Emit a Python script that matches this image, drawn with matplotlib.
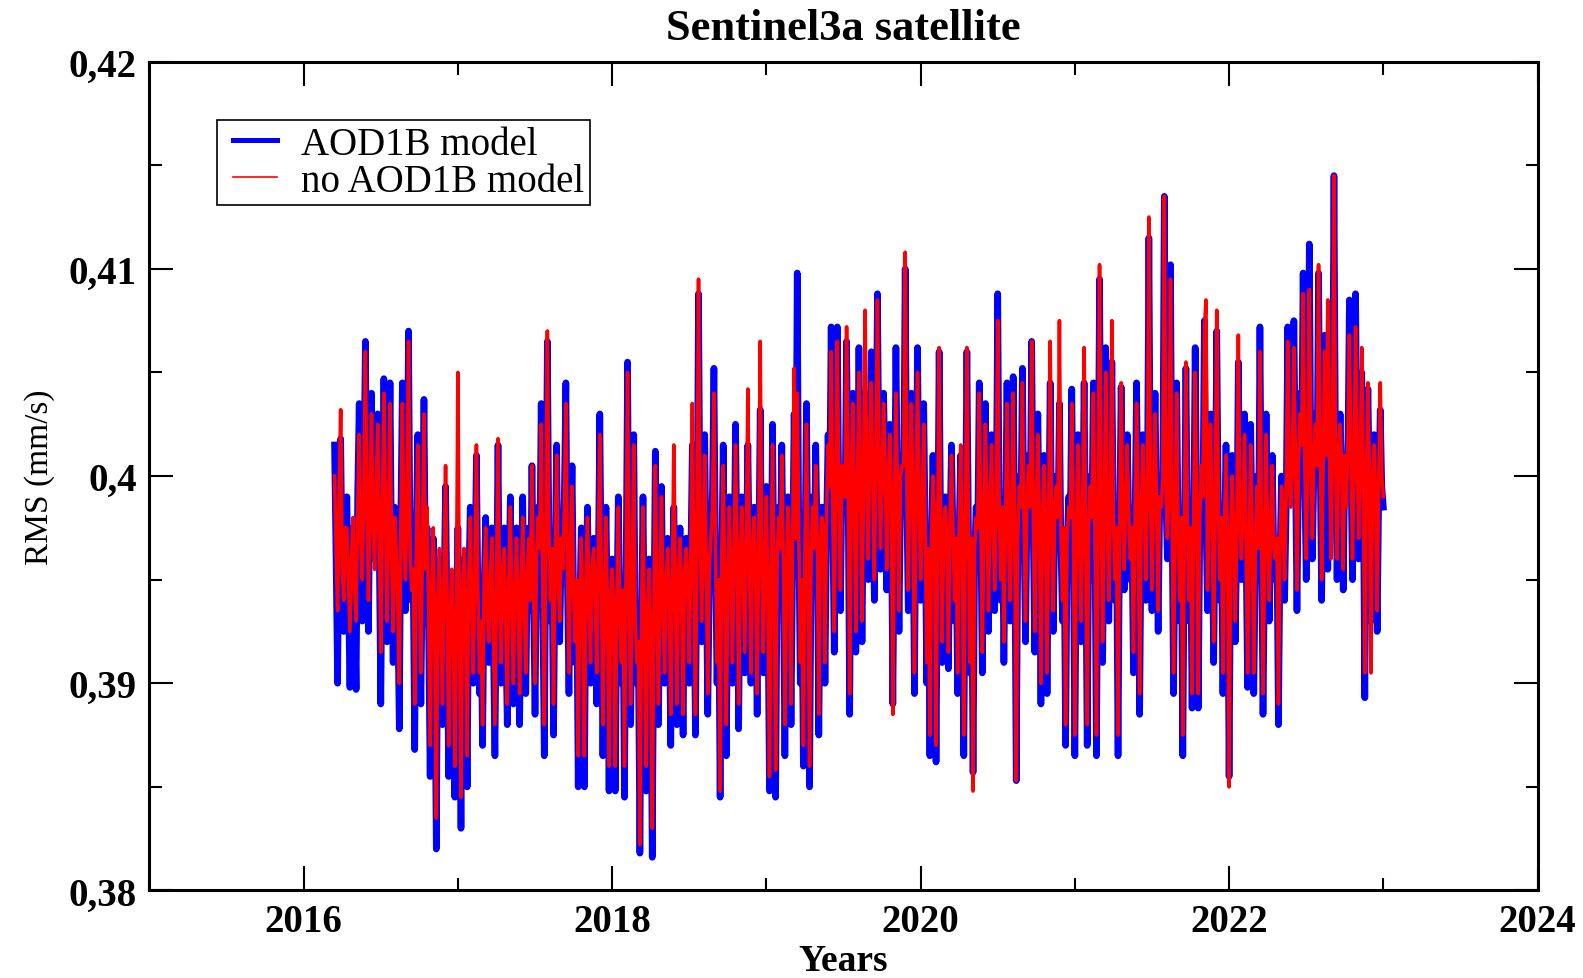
import numpy as np
import matplotlib.pyplot as plt
from matplotlib.ticker import MultipleLocator, FuncFormatter
from matplotlib.legend_handler import HandlerLine2D

# RMS values in units of 1e-4 mm/s, sampled every 0.01 yr from 2016.20
t_start = 2016.20
t_step = 0.01

aod1b = [
    4015, 3960, 3900, 3985, 4018, 3950, 3925, 3970, 3990, 3945, 3898, 3955, 3975, 3940, 3897, 3990, 4035, 3965, 3930, 3995,
    4065, 3985, 3925, 3995, 4040, 3970, 3960, 4000, 4030, 3965, 3890, 3975, 4047, 3990, 3920, 3980, 4045, 3960, 3910, 3985,
    3960, 3935, 3878, 3980, 4045, 3965, 3935, 3995, 4070, 3960, 3940, 3950, 3868, 3975, 4020, 3945, 3890, 3960, 4037, 3950,
    3975, 3925, 3855, 3940, 3970, 3910, 3820, 3935, 3960, 3920, 3880, 3945, 3995, 3930, 3855, 3925, 3950, 3915, 3845, 3930,
    3975, 3920, 3830, 3935, 3960, 3925, 3850, 3945, 3985, 3930, 3900, 3950, 4010, 3940, 3895, 3925, 3870, 3945, 3980, 3930,
    3910, 3945, 3975, 3920, 3865, 3940, 4015, 3935, 3900, 3950, 3975, 3925, 3880, 3945, 3990, 3930, 3890, 3940, 3975, 3935,
    3880, 3940, 3990, 3930, 3895, 3950, 3975, 3935, 4005, 3945, 3885, 3955, 3985, 3960, 4035, 3940, 3865, 3965, 4065, 3970,
    3930, 3960, 3875, 3955, 4015, 3945, 3920, 3965, 3960, 3990, 4045, 3950, 3895, 3960, 4005, 3940, 3910, 3945, 3850, 3935,
    3975, 3930, 3850, 3945, 3985, 3935, 3900, 3950, 3970, 3940, 3890, 3955, 4030, 3945, 3865, 3935, 3985, 3930, 3848, 3935,
    3960, 3925, 3848, 3935, 3990, 3930, 3900, 3940, 3845, 3950, 4055, 3935, 3880, 3945, 4020, 3925, 3900, 3915, 3818, 3925,
    3990, 3920, 3848, 3930, 3960, 3915, 3816, 3925, 4012, 3935, 3880, 3940, 3995, 3930, 3900, 3945, 3970, 3935, 3870, 3940,
    3985, 3940, 3880, 3945, 3975, 3935, 3875, 3950, 3970, 3945, 3900, 3960, 4015, 3950, 3875, 3965, 4088, 3975, 3920, 3960,
    4020, 3955, 3885, 3950, 3975, 3990, 4052, 3960, 3900, 3945, 3845, 3955, 4015, 3945, 3865, 3940, 3990, 3950, 3900, 3955,
    4025, 3960, 3878, 3950, 3990, 3945, 3905, 3965, 4015, 3955, 3900, 3960, 3985, 3950, 3885, 3960, 4032, 3955, 3905, 3950,
    3995, 3935, 3848, 3945, 4025, 3940, 3845, 3955, 3985, 3960, 4015, 3950, 3865, 3945, 3990, 3955, 3880, 3960, 4030, 3965,
    4098, 3970, 3900, 3945, 3860, 3960, 4035, 3950, 3850, 3955, 3990, 3960, 4015, 3965, 3875, 3960, 3985, 3970, 3900, 3975,
    4020, 3990, 4072, 3980, 3915, 3995, 4072, 3985, 3935, 4000, 4000, 3985, 4065, 3990, 3885, 3995, 4040, 3980, 3915, 3990,
    4062, 3995, 3920, 3990, 4040, 4000, 3950, 4005, 4060, 3995, 3940, 4000, 4088, 4005, 3955, 3995, 4040, 4000, 3945, 3990,
    4025, 3985, 3890, 3980, 4062, 3990, 3925, 3995, 4010, 4000, 4100, 3990, 3935, 3995, 4040, 3985, 3895, 3990, 4062, 3985,
    3940, 3975, 4035, 3970, 3900, 3960, 3865, 3965, 4010, 3970, 3862, 3960, 4060, 3975, 3910, 3970, 3990, 3965, 3907, 3970,
    4015, 3970, 3930, 3965, 3895, 3975, 4010, 3960, 3865, 3970, 4060, 3975, 3905, 3965, 3857, 3960, 3985, 3970, 4045, 3975,
    3905, 3970, 4035, 3975, 3925, 3980, 4020, 3970, 3935, 3985, 4088, 3975, 3940, 3980, 3910, 3975, 4045, 3970, 3930, 3975,
    4048, 3970, 3853, 3965, 4000, 3980, 4052, 3975, 3920, 3985, 4010, 3980, 4065, 3975, 3915, 3980, 4030, 3970, 3890, 3975,
    4010, 3970, 3895, 3975, 4045, 3970, 3925, 3980, 4000, 3975, 4035, 3965, 3930, 3970, 3870, 3965, 3990, 3975, 4042, 3970,
    3865, 3965, 4020, 3970, 3920, 3975, 4045, 3965, 3870, 3970, 4000, 3975, 4045, 3970, 3865, 3975, 4095, 3980, 3910, 3975,
    4062, 3975, 3930, 3980, 4055, 3975, 3940, 3970, 3865, 3975, 4043, 3980, 3945, 3985, 4020, 3975, 3950, 3970, 3905, 3975,
    4045, 3980, 3885, 3975, 4020, 3985, 3940, 3990, 4115, 3985, 3935, 3990, 4040, 3980, 3925, 3985, 3990, 3995, 4135, 3990,
    3960, 3990, 4102, 3980, 3895, 3975, 4045, 3970, 3930, 3975, 3865, 3970, 4052, 3975, 3930, 3970, 3888, 3975, 4062, 3980,
    3888, 3975, 4000, 3985, 4075, 3980, 3935, 3985, 4030, 3975, 3910, 3980, 4070, 3985, 3940, 3975, 3895, 3970, 4015, 3965,
    3855, 3960, 4010, 3965, 3920, 3970, 4055, 3975, 3950, 3980, 4030, 3965, 3898, 3960, 4025, 3965, 3895, 3955, 4000, 3960,
    4072, 3970, 3885, 3960, 4030, 3965, 3930, 3970, 4010, 3960, 3950, 3965, 3880, 3960, 4000, 3975, 3940, 3985, 4072, 3990,
    3990, 4000, 4075, 4005, 3935, 4000, 4040, 4010, 4098, 4005, 3950, 4000, 4112, 4010, 3960, 4005, 4030, 4000, 4098, 4010,
    3940, 4000, 4068, 4005, 3955, 4010, 4050, 4015, 4145, 4010, 3950, 4005, 4030, 4000, 3945, 4005, 3990, 4010, 4085, 4005,
    3950, 4000, 4088, 4005, 3960, 4000, 4050, 3995, 3893, 3990, 4042, 3995, 3930, 3990, 4020, 3985, 3925, 3990, 4032, 3995,
    3985,
]

no_aod1b = [
    4000, 3965, 3935, 3990, 4032, 3955, 3940, 3975, 3975, 3950, 3925, 3960, 3980, 3945, 3930, 3985, 4020, 3970, 3950, 3990,
    4060, 3990, 3940, 3990, 4030, 3975, 3955, 3995, 4025, 3970, 3915, 3980, 4040, 3985, 3930, 3975, 4035, 3965, 3925, 3980,
    3965, 3940, 3900, 3975, 4035, 3970, 3950, 3990, 4065, 3965, 3945, 3955, 3890, 3970, 4015, 3950, 3905, 3965, 4030, 3955,
    3985, 3930, 3870, 3945, 3975, 3920, 3835, 3940, 3965, 3925, 3890, 3950, 4005, 3935, 3870, 3930, 3955, 3920, 3860, 3935,
    4050, 3925, 3845, 3940, 3965, 3930, 3865, 3950, 3980, 3935, 3905, 3955, 4015, 3945, 3905, 3930, 3880, 3950, 3975, 3935,
    3920, 3950, 3970, 3925, 3880, 3945, 4018, 3940, 3910, 3955, 3965, 3930, 3890, 3950, 3985, 3935, 3900, 3945, 3970, 3940,
    3895, 3945, 3980, 3935, 3905, 3955, 3970, 3940, 4005, 3950, 3900, 3960, 3980, 3965, 4025, 3945, 3880, 3970, 4070, 3975,
    3940, 3965, 3890, 3960, 4010, 3950, 3930, 3970, 3955, 3985, 4035, 3955, 3905, 3965, 3995, 3945, 3920, 3950, 3865, 3940,
    3970, 3935, 3865, 3950, 3980, 3940, 3910, 3955, 3965, 3945, 3905, 3960, 4020, 3950, 3880, 3940, 3980, 3935, 3860, 3940,
    3955, 3930, 3860, 3940, 3985, 3935, 3910, 3945, 3860, 3955, 4050, 3940, 3890, 3950, 4015, 3930, 3910, 3920, 3822, 3930,
    3985, 3925, 3860, 3935, 3955, 3920, 3830, 3930, 4005, 3940, 3890, 3945, 3990, 3935, 3905, 3950, 3965, 3940, 3885, 3945,
    4015, 3945, 3890, 3950, 3970, 3940, 3885, 3955, 3965, 3950, 3910, 3965, 4035, 3955, 3885, 3970, 4095, 3980, 3930, 3965,
    4010, 3960, 3895, 3955, 3970, 3985, 4040, 3965, 3910, 3950, 3848, 3960, 4005, 3950, 3880, 3945, 3985, 3955, 3910, 3960,
    4015, 3965, 3890, 3955, 3985, 3950, 3915, 3970, 4042, 3960, 3905, 3965, 3980, 3955, 3895, 3965, 4065, 3960, 3915, 3955,
    3990, 3940, 3855, 3950, 4015, 3945, 3858, 3960, 3980, 3965, 4010, 3955, 3880, 3950, 3985, 3960, 3890, 3965, 4052, 3970,
    4040, 3975, 3910, 3950, 3870, 3965, 4025, 3955, 3860, 3960, 3985, 3965, 4005, 3970, 3885, 3965, 3980, 3975, 3910, 3980,
    4015, 3995, 4060, 3985, 3925, 4000, 4065, 3990, 3945, 4005, 3995, 3990, 4072, 3995, 3895, 4000, 4035, 3985, 3925, 3995,
    4050, 4000, 3930, 3995, 4080, 4005, 3960, 4010, 4045, 4000, 3950, 4005, 4085, 4010, 3965, 4000, 4035, 4005, 3955, 3995,
    4020, 3990, 3885, 3985, 4040, 3995, 3935, 4000, 4005, 4005, 4108, 3995, 3945, 4000, 4035, 3990, 3905, 3995, 4050, 3990,
    3950, 3980, 4025, 3975, 3910, 3965, 3875, 3970, 4000, 3975, 3870, 3965, 4062, 3980, 3920, 3975, 3985, 3970, 3915, 3975,
    4010, 3975, 3940, 3970, 3905, 3980, 4015, 3965, 3875, 3975, 4062, 3980, 3910, 3970, 3848, 3965, 3980, 3975, 4040, 3980,
    3915, 3975, 4025, 3980, 3935, 3985, 4015, 3975, 3945, 3990, 4075, 3980, 3950, 3985, 3920, 3980, 4035, 3975, 3940, 3980,
    4040, 3975, 3853, 3970, 3995, 3985, 4045, 3980, 3930, 3990, 4005, 3985, 4065, 3980, 3925, 3985, 4020, 3975, 3900, 3980,
    4005, 3975, 3905, 3980, 4065, 3975, 3935, 3985, 3995, 3980, 4075, 3970, 3940, 3975, 3880, 3970, 3985, 3980, 4035, 3975,
    3875, 3970, 4015, 3975, 3930, 3980, 4062, 3970, 3880, 3975, 3995, 3980, 4040, 3975, 3875, 3980, 4102, 3985, 3920, 3980,
    4050, 3980, 3940, 3985, 4075, 3980, 3950, 3975, 3875, 3980, 4045, 3985, 3955, 3990, 4015, 3980, 3960, 3975, 3915, 3980,
    4035, 3985, 3895, 3980, 4015, 3990, 3950, 3995, 4125, 3990, 3945, 3995, 4030, 3985, 3935, 3990, 3985, 4000, 4135, 3995,
    3970, 3995, 4095, 3985, 3905, 3980, 4040, 3975, 3940, 3980, 3875, 3975, 4055, 3980, 3940, 3975, 3895, 3980, 4050, 3985,
    3895, 3980, 4005, 3990, 4070, 4085, 3945, 3990, 4025, 3980, 3920, 3985, 4080, 3990, 3950, 3980, 3905, 3975, 4010, 3970,
    3850, 3965, 4000, 3970, 3930, 3975, 4068, 3980, 3960, 3985, 4020, 3970, 3905, 3965, 4015, 3970, 3905, 3960, 3995, 3965,
    4060, 3975, 3895, 3965, 4020, 3970, 3940, 3975, 4005, 3965, 3960, 3970, 3890, 3965, 3995, 3980, 3950, 3990, 4065, 3995,
    3985, 4005, 4062, 4010, 3945, 4005, 4030, 4015, 4088, 4010, 3960, 4005, 4090, 4015, 3970, 4010, 4025, 4005, 4102, 4015,
    3950, 4005, 4060, 4010, 4085, 4015, 3960, 4015, 4145, 4015, 3960, 4010, 4025, 4005, 3955, 4010, 3985, 4015, 4068, 4010,
    3960, 4005, 4072, 4010, 3970, 4005, 4062, 4000, 3905, 3995, 4045, 4000, 3905, 3995, 4015, 3990, 3935, 3995, 4045, 4000,
    3990,
]

blue = np.array(aod1b) / 1e4
red = np.array(no_aod1b) / 1e4
n = min(len(blue), len(red))
years = t_start + t_step * np.arange(n)

plt.rcParams['font.family'] = 'Liberation Serif'

fig = plt.figure(figsize=(15.83, 9.79), dpi=100)
ax = fig.add_axes([0.0944, 0.0894, 0.8769, 0.8466])

ax.plot(years, blue[:n], color='#0000ff', lw=4.8, label='AOD1B model')
ax.plot(years, red[:n], color='#ff0000', lw=2.6, label='no AOD1B model')

ax.set_xlim(2015, 2024)
ax.set_ylim(0.38, 0.42)
ax.xaxis.set_major_locator(MultipleLocator(2))
ax.xaxis.set_minor_locator(MultipleLocator(1))
ax.yaxis.set_major_locator(MultipleLocator(0.01))
ax.yaxis.set_minor_locator(MultipleLocator(0.005))
ax.yaxis.set_major_formatter(FuncFormatter(lambda v, p: ('%g' % round(v, 4)).replace('.', ',')))

ax.tick_params(which='both', direction='in', top=True, right=True, width=1.5)
ax.tick_params(which='major', length=17, pad=9, labelsize=28)
ax.tick_params(which='minor', length=9)
for lbl in ax.get_xticklabels() + ax.get_yticklabels():
    lbl.set_fontweight('bold')
for s in ax.spines.values():
    s.set_linewidth(2.2)

ax.set_title('Sentinel3a satellite', fontsize=32, fontweight='bold', pad=16)
ax.set_xlabel('Years', fontsize=27, fontweight='bold', labelpad=2)
ax.set_ylabel('RMS (mm/s)', fontsize=24, labelpad=10)

leg = ax.legend(loc='upper left', bbox_to_anchor=(0.0486, 0.93), fontsize=28,
                frameon=True, fancybox=False, edgecolor='black', framealpha=1,
                borderaxespad=0, handlelength=1.4, handletextpad=0.62,
                borderpad=0.15, labelspacing=0.0,
                handler_map={plt.Line2D: HandlerLine2D(xpad=0.26)})
leg.get_frame().set_linewidth(1.2)
leg.legend_handles[0].set_linewidth(3.6)
leg.legend_handles[1].set_linewidth(1.2)

fig.savefig('out.png', dpi=100)
